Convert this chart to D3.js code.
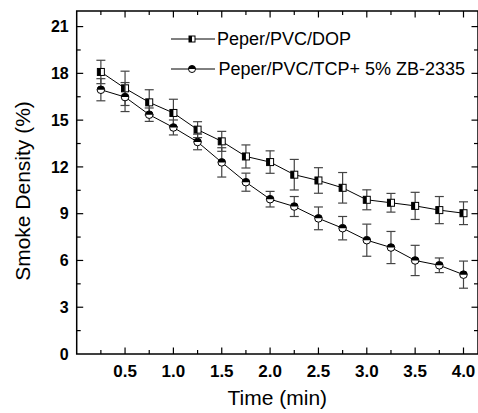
<!DOCTYPE html>
<html><head><meta charset="utf-8">
<script src="https://cdn.jsdelivr.net/npm/d3@7"></script>
<style>body{margin:0;background:#fff}svg{display:block}</style>
</head><body>
<script>
const times = [0.25,0.5,0.75,1.0,1.25,1.5,1.75,2.0,2.25,2.5,2.75,3.0,3.25,3.5,3.75,4.0];
const dopValues = [18.09,17.04,16.14,15.46,14.39,13.64,12.67,12.31,11.5,11.13,10.66,9.89,9.70,9.50,9.23,9.03];
const dopErrors = [0.75,1.1,0.81,0.88,0.51,0.64,0.74,0.72,0.98,0.82,0.98,0.64,0.6,0.87,0.87,0.73];
const tcpValues = [16.95,16.48,15.35,14.53,13.6,12.29,11.02,9.93,9.46,8.70,8.07,7.30,6.83,6.0,5.69,5.09];
const tcpErrors = [0.71,0.93,0.43,0.48,0.5,0.94,0.58,0.5,0.64,0.73,0.75,1.03,1.03,0.97,0.47,0.87];
const seriesNames = ["Peper/PVC/DOP","Peper/PVC/TCP+ 5% ZB-2335"];
const xTicks = [0.5,1.0,1.5,2.0,2.5,3.0,3.5,4.0];
const yTicks = [0,3,6,9,12,15,18,21];
const xTitle = "Time (min)";
const yTitle = "Smoke Density (%)";

const W=478,H=413;
const L=76.7,R=478,T=11,B=354;
const svg=d3.select("body").append("svg").attr("width",W).attr("height",H);
const x=d3.scaleLinear().domain([0,4.15]).range([L,R]);
const y=d3.scaleLinear().domain([0,22]).range([B,T]);
const font="Arial, 'Liberation Sans', sans-serif";

// frame
svg.append("rect").attr("x",L).attr("y",T).attr("width",R-L).attr("height",B-T)
  .attr("fill","none").attr("stroke","#000").attr("stroke-width",1.5);

// ticks (inward)
const xMinor=d3.range(0.25,4.15,0.25);
const yMinor=d3.range(1.5,22,1.5);
const tg=svg.append("g").attr("stroke","#000").attr("stroke-width",1.2);
xMinor.forEach(v=>{
  const major=xTicks.some(t=>Math.abs(t-v)<1e-6);
  const len=major?6.5:4;
  tg.append("line").attr("x1",x(v)).attr("x2",x(v)).attr("y1",B).attr("y2",B-len);
  tg.append("line").attr("x1",x(v)).attr("x2",x(v)).attr("y1",T).attr("y2",T+len);
});
yMinor.forEach(v=>{
  const major=yTicks.some(t=>Math.abs(t-v)<1e-6);
  const len=major?6.5:4;
  tg.append("line").attr("x1",L).attr("x2",L+len).attr("y1",y(v)).attr("y2",y(v));
  tg.append("line").attr("x1",R).attr("x2",R-len).attr("y1",y(v)).attr("y2",y(v));
});

// tick labels
svg.append("g").selectAll("text").data(xTicks).join("text")
  .attr("x",d=>x(d)).attr("y",B+22.5).attr("text-anchor","middle")
  .attr("font-family",font).attr("font-weight","bold").attr("font-size",17)
  .text(d=>d.toFixed(1));
svg.append("g").selectAll("text").data(yTicks).join("text")
  .attr("x",L-8).attr("y",d=>y(d)).attr("dy","0.36em").attr("text-anchor","end")
  .attr("font-family",font).attr("font-weight","bold").attr("font-size",16)
  .text(d=>d);

// axis titles
svg.append("text").attr("x",(L+R)/2).attr("y",405).attr("text-anchor","middle")
  .attr("font-family",font).attr("font-size",21).text(xTitle);
svg.append("text").attr("transform","translate(30,191) rotate(-90)").attr("text-anchor","middle")
  .attr("font-family",font).attr("font-size",21).text(yTitle);

function drawSquare(g,cx,cy,s){
  g.append("rect").attr("x",cx-s/2).attr("y",cy-s/2).attr("width",s).attr("height",s)
    .attr("fill","#fff").attr("stroke","#000").attr("stroke-width",1);
  g.append("rect").attr("x",cx-s/2).attr("y",cy-s/2).attr("width",s/2).attr("height",s)
    .attr("fill","#000");
}
function drawCircle(g,cx,cy,r){
  g.append("circle").attr("cx",cx).attr("cy",cy).attr("r",r)
    .attr("fill","#fff").attr("stroke","#000").attr("stroke-width",1);
  g.append("path").attr("d",`M${cx-r},${cy} A${r},${r} 0 0 1 ${cx+r},${cy} Z`).attr("fill","#000");
}

const series=[
  {vals:dopValues,errs:dopErrors,shape:"square"},
  {vals:tcpValues,errs:tcpErrors,shape:"circle"}
];
const line=d3.line().x(d=>x(d[0])).y(d=>y(d[1]));
series.forEach(s=>{
  const pts=times.map((t,i)=>[t,s.vals[i],s.errs[i]]);
  const eg=svg.append("g").attr("stroke","#444").attr("stroke-width",1.2);
  pts.forEach(p=>{
    const cx=x(p[0]);
    eg.append("line").attr("x1",cx).attr("x2",cx).attr("y1",y(p[1]+p[2])).attr("y2",y(p[1]-p[2]));
    eg.append("line").attr("x1",cx-4.5).attr("x2",cx+4.5).attr("y1",y(p[1]+p[2])).attr("y2",y(p[1]+p[2]));
    eg.append("line").attr("x1",cx-4.5).attr("x2",cx+4.5).attr("y1",y(p[1]-p[2])).attr("y2",y(p[1]-p[2]));
  });
  svg.append("path").datum(pts).attr("d",line).attr("fill","none").attr("stroke","#000").attr("stroke-width",1);
  const mg=svg.append("g");
  pts.forEach(p=>{
    if(s.shape==="square") drawSquare(mg,x(p[0]),y(p[1]),7);
    else drawCircle(mg,x(p[0]),y(p[1]),3.8);
  });
});

// legend
const lg=svg.append("g");
[39,69].forEach((ly,i)=>{
  lg.append("line").attr("x1",171).attr("x2",215).attr("y1",ly).attr("y2",ly).attr("stroke","#000").attr("stroke-width",1);
  if(i===0) drawSquare(lg,192,ly,6); else drawCircle(lg,192,ly,3.5);
  lg.append("text").attr("x",i===0?217:218.5).attr("y",ly).attr("dy","0.36em")
    .attr("font-family",font).attr("font-size",18).text(seriesNames[i]);
});
</script>
</body></html>
